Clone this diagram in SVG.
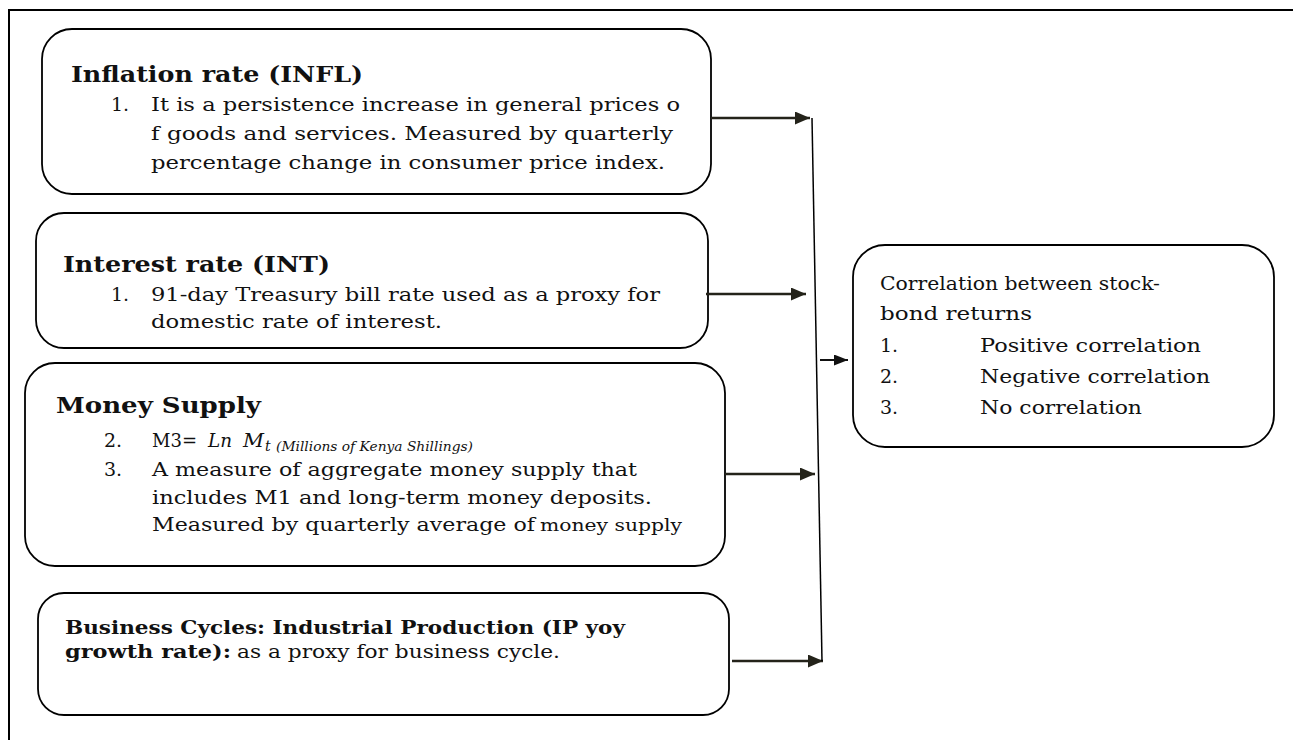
<svg xmlns="http://www.w3.org/2000/svg" width="1293" height="740" viewBox="0 0 1293 740">
<style>
.box{fill:#fff;stroke:#000;stroke-width:1.8}
.t{font-family:"DejaVu Serif","Liberation Serif",serif;fill:#111;font-size:19px}
.b{font-weight:bold;font-size:23px}
.bs{font-weight:bold;font-size:18px}
.i{font-style:italic}
.arr{stroke:#24231a;stroke-width:2.6;fill:none}
.thin{stroke:#000;stroke-width:1.5;fill:none}
</style>
<defs>
<marker id="ah" markerUnits="userSpaceOnUse" markerWidth="16" markerHeight="14" refX="15" refY="6.5" orient="auto">
<path d="M0,0 L15,6.5 L0,13 z" fill="#24231a"/>
</marker>
<marker id="ahs" markerUnits="userSpaceOnUse" markerWidth="16" markerHeight="12" refX="14" refY="5.5" orient="auto">
<path d="M0,0 L14,5.5 L0,11 z" fill="#111"/>
</marker>
<clipPath id="c1"><rect x="40" y="27" width="675" height="148"/></clipPath>
</defs>
<rect x="9" y="10" width="1320" height="800" fill="#fff" stroke="#000" stroke-width="2"/>

<g id="node-inflation">
<rect class="box" x="42" y="29" width="669" height="165" rx="30"/>
<text class="t b" x="71" y="82" textLength="292" lengthAdjust="spacingAndGlyphs">Inflation rate (INFL)</text>
<g clip-path="url(#c1)">
<text class="t" x="111" y="111">1.</text>
<text class="t" x="151" y="111" textLength="529" lengthAdjust="spacingAndGlyphs">It is a persistence increase in general prices o</text>
<text class="t" x="151" y="140" textLength="522" lengthAdjust="spacingAndGlyphs">f goods and services. Measured by quarterly</text>
<text class="t" x="151" y="169" textLength="514" lengthAdjust="spacingAndGlyphs">percentage change in consumer price index.</text>
</g>
</g>

<g id="node-interest">
<rect class="box" x="36" y="213" width="672" height="135" rx="28"/>
<text class="t b" x="63" y="272" textLength="267" lengthAdjust="spacingAndGlyphs">Interest rate (INT)</text>
<text class="t" x="111" y="301">1.</text>
<text class="t" x="151" y="301" textLength="509" lengthAdjust="spacingAndGlyphs">91-day Treasury bill rate used as a proxy for</text>
<text class="t" x="151" y="328" textLength="291" lengthAdjust="spacingAndGlyphs">domestic rate of interest.</text>
</g>

<g id="node-money">
<rect class="box" x="25" y="363" width="700" height="203" rx="30"/>
<text class="t b" x="56" y="413" textLength="205" lengthAdjust="spacingAndGlyphs">Money Supply</text>
<text class="t" x="104" y="447">2.</text>
<text class="t" x="152" y="447" textLength="45" lengthAdjust="spacingAndGlyphs">M3=</text>
<text class="t i" x="208" y="447" textLength="24" lengthAdjust="spacingAndGlyphs">Ln</text>
<text class="t i" x="243" y="447" textLength="21" lengthAdjust="spacingAndGlyphs">M</text>
<text class="t i" x="265" y="451" style="font-size:14px">t</text>
<text class="t i" x="276" y="451" style="font-size:12px" textLength="197" lengthAdjust="spacingAndGlyphs">(Millions of Kenya Shillings)</text>
<text class="t" x="104" y="476">3.</text>
<text class="t" x="152" y="476" textLength="485" lengthAdjust="spacingAndGlyphs">A measure of aggregate money supply that</text>
<text class="t" x="152" y="504" textLength="500" lengthAdjust="spacingAndGlyphs">includes M1 and long-term money deposits.</text>
<text class="t" x="152" y="531" textLength="383" lengthAdjust="spacingAndGlyphs">Measured by quarterly average of</text>
<text class="t" x="540" y="531" style="font-size:17px" textLength="142" lengthAdjust="spacingAndGlyphs">money supply</text>
</g>

<g id="node-business">
<rect class="box" x="38" y="593" width="691" height="122" rx="26"/>
<text class="t bs" x="65" y="634" textLength="560" lengthAdjust="spacingAndGlyphs">Business Cycles: Industrial Production (IP yoy</text>
<text class="t bs" x="65" y="658" textLength="166" lengthAdjust="spacingAndGlyphs">growth rate):</text>
<text class="t" x="237" y="658" textLength="323" lengthAdjust="spacingAndGlyphs">as a proxy for business cycle.</text>
</g>

<g id="node-correlation">
<rect class="box" x="853" y="245" width="421" height="202" rx="32"/>
<text class="t" x="880" y="290" textLength="280" lengthAdjust="spacingAndGlyphs">Correlation between stock-</text>
<text class="t" x="880" y="320" textLength="152" lengthAdjust="spacingAndGlyphs">bond returns</text>
<text class="t" x="880" y="352">1.</text>
<text class="t" x="980" y="352" textLength="221" lengthAdjust="spacingAndGlyphs">Positive correlation</text>
<text class="t" x="880" y="383">2.</text>
<text class="t" x="980" y="383" textLength="230" lengthAdjust="spacingAndGlyphs">Negative correlation</text>
<text class="t" x="880" y="414">3.</text>
<text class="t" x="980" y="414" textLength="162" lengthAdjust="spacingAndGlyphs">No correlation</text>
</g>

<g id="connectors">
<line class="arr" x1="711" y1="118" x2="810" y2="118" marker-end="url(#ah)"/>
<line class="arr" x1="706" y1="294" x2="806" y2="294" marker-end="url(#ah)"/>
<line class="arr" x1="725" y1="474" x2="815" y2="474" marker-end="url(#ah)"/>
<line class="arr" x1="732" y1="661" x2="823" y2="661" marker-end="url(#ah)"/>
<line class="thin" x1="812" y1="118" x2="822" y2="661"/>
<line stroke="#111" stroke-width="2" x1="820" y1="360" x2="848" y2="360" marker-end="url(#ahs)"/>
</g>
</svg>
